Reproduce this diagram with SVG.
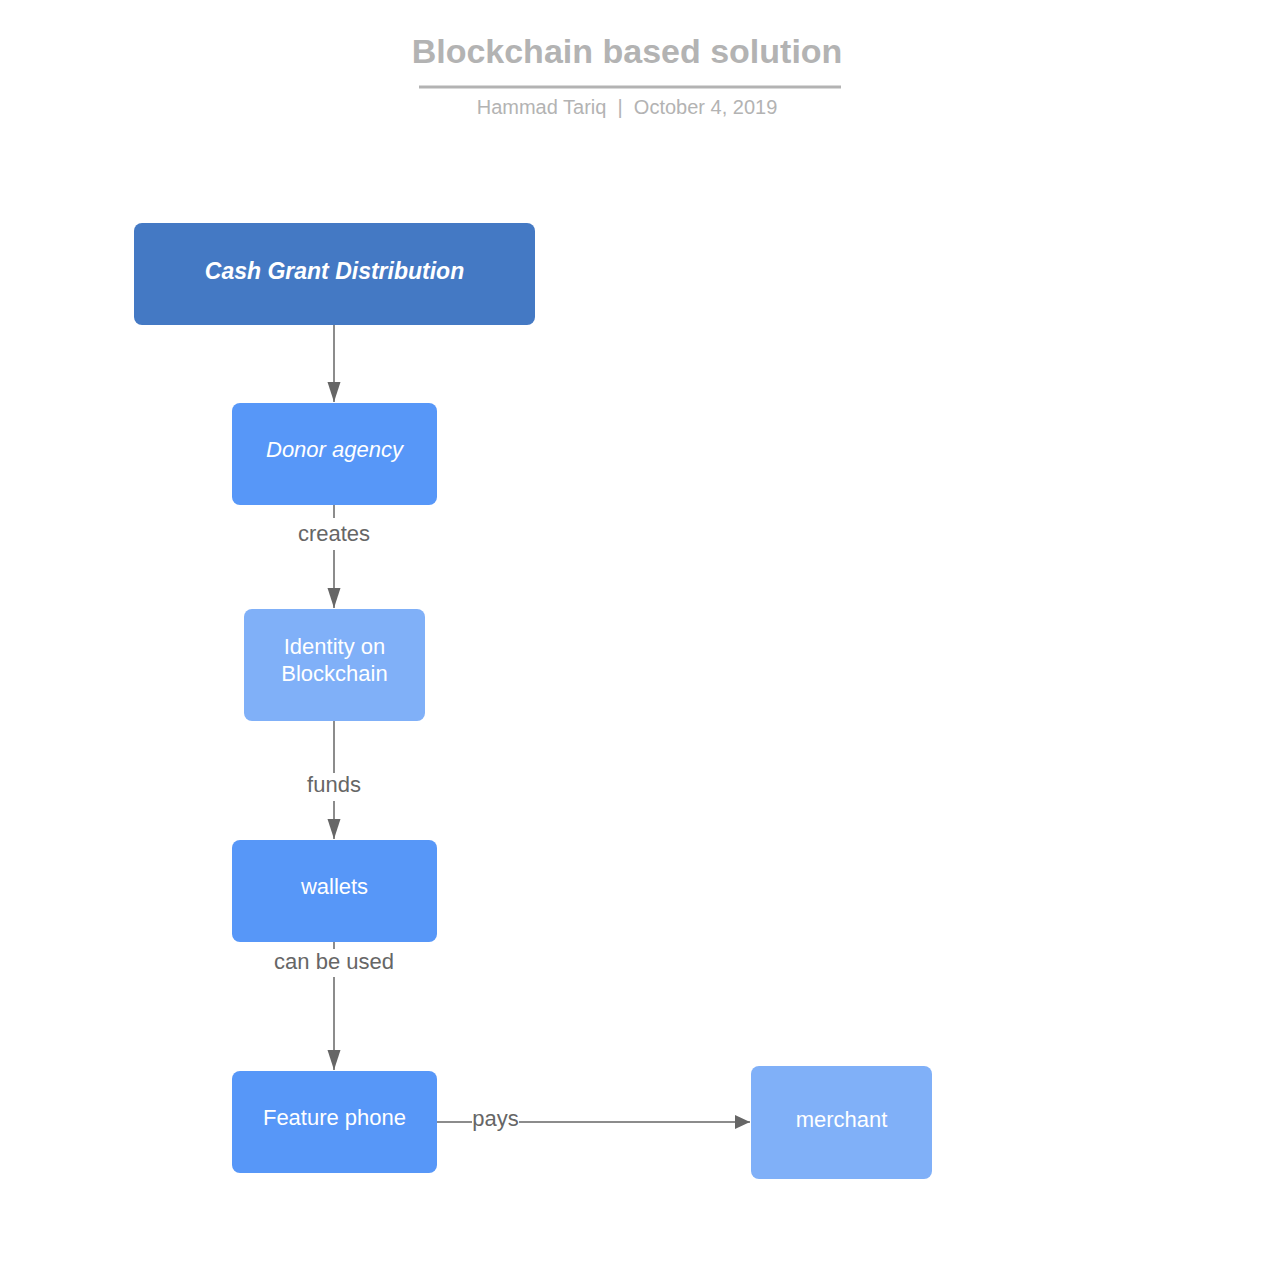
<svg xmlns="http://www.w3.org/2000/svg" width="1276" height="1264" viewBox="0 0 1276 1264">
<style>
text{font-family:"Liberation Sans",Arial,sans-serif;}
.nt{fill:#ffffff;font-size:22px;text-anchor:middle;}
.lb{fill:#666666;font-size:22px;text-anchor:middle;}
.ln{stroke:#666666;stroke-width:1.5;fill:none;}
.dark{fill:#4479c4;}
.mid{fill:#5797f8;}
.light{fill:#80b0f8;}
</style>
<defs>
<marker id="ah" viewBox="0 0 16 20" refX="15" refY="10" markerWidth="16" markerHeight="20" markerUnits="userSpaceOnUse" orient="auto">
<path d="M0,3 L15,10 L0,17 Z" fill="#666666"/>
</marker>
<marker id="av" viewBox="0 0 14 20" refX="7" refY="20" markerWidth="14" markerHeight="20" markerUnits="userSpaceOnUse" orient="0">
<path d="M0.5,0 L13.5,0 L7,20 Z" fill="#666666"/>
</marker>
</defs>
<rect width="1276" height="1264" fill="#ffffff"/>
<g id="title">
<text x="627" y="63" text-anchor="middle" font-size="34" font-weight="bold" fill="#b3b3b3">Blockchain based solution</text>
<line x1="419" y1="87" x2="841" y2="87" stroke="#b3b3b3" stroke-width="3"/>
<text x="627" y="114" text-anchor="middle" font-size="20" fill="#b3b3b3" xml:space="preserve" style="white-space:pre">Hammad Tariq  |  October 4, 2019</text>
</g>
<g id="connectors">
<line class="ln" x1="334" y1="325" x2="334" y2="402" marker-end="url(#av)"/>
<line class="ln" x1="334" y1="505" x2="334" y2="518"/>
<line class="ln" x1="334" y1="550" x2="334" y2="608" marker-end="url(#av)"/>
<text class="lb" x="334" y="541">creates</text>
<line class="ln" x1="334" y1="721" x2="334" y2="773"/>
<line class="ln" x1="334" y1="801" x2="334" y2="839" marker-end="url(#av)"/>
<text class="lb" x="334" y="792">funds</text>
<line class="ln" x1="334" y1="942" x2="334" y2="949"/>
<line class="ln" x1="334" y1="977" x2="334" y2="1070" marker-end="url(#av)"/>
<text class="lb" x="334" y="969">can be used</text>
<line class="ln" x1="437" y1="1122" x2="472" y2="1122"/>
<line class="ln" x1="519" y1="1122" x2="750" y2="1122" marker-end="url(#ah)"/>
<text class="lb" x="495.5" y="1126">pays</text>
</g>
<g id="node-cash">
<rect class="dark" x="134" y="223" width="401" height="102" rx="8"/>
<text class="nt" x="334.5" y="279" style="font-size:23px;font-weight:bold;font-style:italic">Cash Grant Distribution</text>
</g>
<g id="node-donor">
<rect class="mid" x="232" y="403" width="205" height="102" rx="8"/>
<text class="nt" x="334.5" y="457" font-style="italic">Donor agency</text>
</g>
<g id="node-identity">
<rect class="light" x="244" y="609" width="181" height="112" rx="8"/>
<text class="nt" x="334.5" y="654">Identity on</text>
<text class="nt" x="334.5" y="681">Blockchain</text>
</g>
<g id="node-wallets">
<rect class="mid" x="232" y="840" width="205" height="102" rx="8"/>
<text class="nt" x="334.5" y="894">wallets</text>
</g>
<g id="node-phone">
<rect class="mid" x="232" y="1071" width="205" height="102" rx="8"/>
<text class="nt" x="334.5" y="1125">Feature phone</text>
</g>
<g id="node-merchant">
<rect class="light" x="751" y="1066" width="181" height="113" rx="8"/>
<text class="nt" x="841.5" y="1127">merchant</text>
</g>
</svg>
